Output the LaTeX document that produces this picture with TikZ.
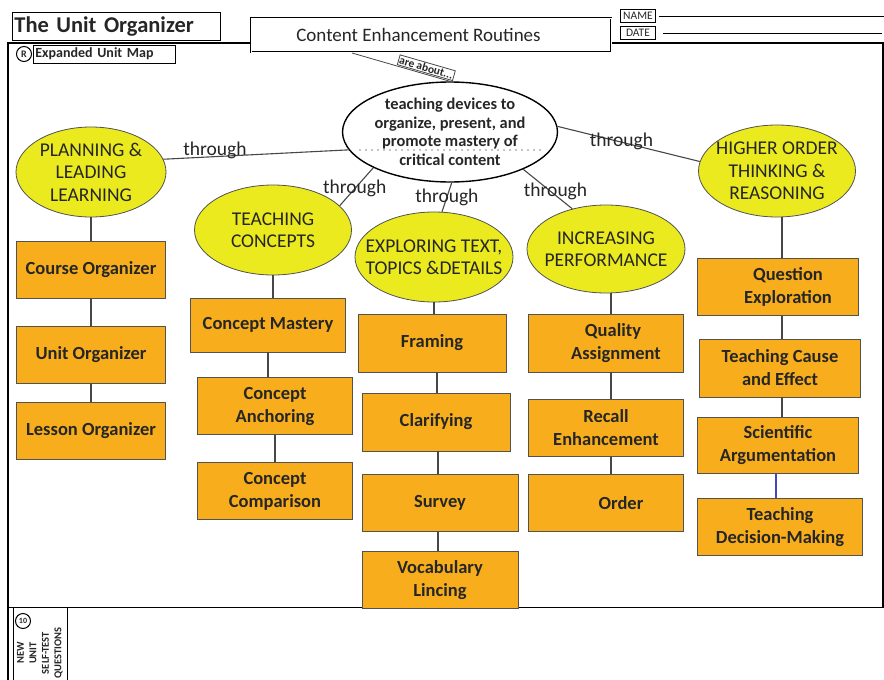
\documentclass[tikz,border=0pt]{standalone}
\usepackage{fontspec}
\setmainfont{Carlito}
\usetikzlibrary{shapes.geometric}
\definecolor{yel}{RGB}{234,234,30}
\definecolor{amber}{RGB}{248,174,28}
\definecolor{ink}{gray}{.15}
\tikzset{
  topic/.style={ellipse, draw=ink!80, fill=yel, inner xsep=-22pt, inner ysep=-4pt, align=center, font=\fontsize{19.5}{22.5}\selectfont},
  routine/.style={rectangle, draw=ink!80, fill=amber, minimum height=57pt, inner sep=1pt, align=center, font=\bfseries\fontsize{18.5}{23}\selectfont},
  thru/.style={font=\fontsize{19.5}{19.5}\selectfont, inner sep=0pt},
  link/.style={draw=ink!85, line width=1.1pt}
}

\begin{document}
\begin{tikzpicture}[x=1pt, y=-1pt, thick, text=ink]
    \useasboundingbox (0,0) rectangle (884,680);
    % \fill[white](0,0)rectangle(884,680);
    \draw[line width=1.5pt](250,43)--(8,43)--(8,680);
    \draw[line width=1.5pt](612,43)--(883,43)--(883,607);
    \draw(8,607)--(884,607);
    \draw(13,607)rectangle(67,680);
    \node[draw, anchor=north west, minimum width=208, minimum height=28, text width=204, align=left, inner sep=1pt, font=\bfseries\fontsize{22.5}{22.5}\selectfont] (title) at (12,12) {The Unit Organizer};
    \node[draw, double, double distance=1pt, fill=white, minimum width=360, minimum height=34, font=\fontsize{19}{19}\selectfont] (cer) at (431,35) {\raisebox{-5pt}{Content Enhancement Routines}\hspace*{25pt}};
    \node[draw, minimum width=35, minimum height=13, inner sep=.5pt, font=\fontsize{11.5}{11.5}\selectfont] (name) at (638,16) {NAME};
    \node[draw, minimum width=35, minimum height=13, inner sep=.5pt, font=\fontsize{11.5}{11.5}\selectfont] (date) at (638,33) {DATE};
    \draw([xshift=3pt]name.east)--(name.east -| 884,0);
    \draw([xshift=7pt]date.east)--(date.east -| 882,0);
    \node[draw, anchor=west, minimum width=142, minimum height=18, text width=138, align=left, inner sep=1pt, font=\bfseries\fontsize{14}{14}\selectfont] (eum) at (33,54) {Expanded Unit Map};
    \node[circle, draw, line width=1pt, inner sep=0pt, minimum size=15, font=\bfseries\fontsize{10}{10}\selectfont] (mapicon) at (24,54) {R};
    \node[circle, draw, line width=1pt, inner sep=0pt, minimum size=15, font=\bfseries\fontsize{8}{8}\selectfont] (testicon) at (23,621) {10};
    \node[rotate=90, align=center, inner sep=0pt, font=\bfseries\fontsize{10.5}{12.5}\selectfont] (selftest) at (40,653) {NEW\\UNIT\\SELF-TEST\\QUESTIONS};

    \node[ellipse, draw, line width=1.4pt, minimum width=215, minimum height=100, inner xsep=-15pt, inner ysep=-4pt, align=center, font=\bfseries\fontsize{16.4}{18.5}\selectfont] (core) at (450,132) {teaching devices to\\organize, present, and\\promote mastery of\\critical content};
    \draw[line width=1.3pt, line cap=round, dash pattern=on 0pt off 6pt](360,150)--(545,150);
    \coordinate (cerfoot) at (352,53);
    \draw[link, line width=.8pt](cerfoot)--node[pos=.74, sloped, above=1pt, draw, fill=white, inner sep=1pt, font=\bfseries\fontsize{11.5}{11.5}\selectfont] (about) {are about...} (core.north);

    \node[topic, minimum width=150, minimum height=90] (plan) at (91,172) {PLANNING \&\\LEADING\\LEARNING};
    \node[topic, minimum width=157, minimum height=90] (teach) at (273,230) {TEACHING\\CONCEPTS};
    \node[topic, minimum width=158, minimum height=90] (expl) at (434,257) {EXPLORING TEXT,\\TOPICS \&DETAILS};
    \node[topic, minimum width=158, minimum height=88] (incr) at (606,249) {INCREASING\\PERFORMANCE};
    \node[topic, minimum width=157, minimum height=92] (high) at (777,171) {HIGHER ORDER\\THINKING \&\\REASONING};

    \draw[link](core.190)--node[thru, pos=.7, xshift=-4pt, yshift=6pt]{through}(plan.10);
    \draw[link](core.205)--node[thru, pos=.55]{through}(teach.20);
    \draw[link](core.272)--node[thru, pos=.5]{through}(expl.80);
    \draw[link](core.333)--node[thru, pos=.7, xshift=-2pt, yshift=6pt]{through}(incr.130);
    \draw[link](core.3)--node[thru, pos=.45, yshift=1pt]{through}(high.173);

    \node[routine, minimum width=149] (course) at (91,270) {Course Organizer};
    \node[routine, minimum width=149] (unit) at (91,355) {Unit Organizer};
    \node[routine, minimum width=149] (lesson) at (91,431) {Lesson Organizer};
    \node[routine, minimum width=155, minimum height=54] (cmast) at (268,325) {Concept Mastery};
    \node[routine, minimum width=155] (canch) at (275,406) {Concept\\Anchoring};
    \node[routine, minimum width=155] (ccomp) at (275,491) {Concept\\Comparison};
    \node[routine, minimum width=148, minimum height=58] (fram) at (432,343) {Framing};
    \node[routine, minimum width=148, minimum height=58] (clar) at (436,422) {Clarifying};
    \node[routine, minimum width=156] (surv) at (440,503) {Survey};
    \node[routine, minimum width=156] (vocab) at (440,580) {Vocabulary\\Lincing};
    \node[routine, minimum width=155, minimum height=58] (qual) at (606,343) {\hspace*{14pt}Quality\\\hspace*{20pt}Assignment};
    \node[routine, minimum width=155] (recall) at (606,428) {Recall\\Enhancement};
    \node[routine, minimum width=155] (order) at (606,503) {\hspace*{30pt}Order};
    \node[routine, minimum width=161] (qexp) at (778,287) {\hspace*{20pt}Question\\\hspace*{20pt}Exploration};
    \node[routine, minimum width=161, minimum height=58] (cause) at (780,368) {Teaching Cause\\and Effect};
    \node[routine, minimum width=161, minimum height=56] (sci) at (778,445) {Scientific\\Argumentation};
    \node[routine, minimum width=165] (tdm) at (780,527) {Teaching\\Decision-Making};

    \draw[link](plan)--(course);
    \draw[link](course)--(unit);
    \draw[link](unit)--(lesson);
    \draw[link](teach.south)--(teach.south |- cmast.north);
    \draw[link](cmast.south)--(cmast.south |- canch.north);
    \draw[link](canch.south)--(canch.south |- ccomp.north);
    \draw[link](expl.south)--(expl.south |- fram.north);
    \draw[link]([xshift=5pt]fram.south)--([xshift=5pt]fram.south |- clar.north);
    \draw[link]([xshift=2pt]clar.south)--([xshift=2pt]clar.south |- surv.north);
    \draw[link]([xshift=-2pt]surv.south)--([xshift=-2pt]surv.south |- vocab.north);
    \draw[link]([xshift=5pt]incr.south)--([xshift=5pt]incr.south |- qual.north);
    \draw[link]([xshift=5pt]qual.south)--([xshift=5pt]qual.south |- recall.north);
    \draw[link]([xshift=5pt]recall.south)--([xshift=5pt]recall.south |- order.north);
    \draw[link]([xshift=5pt]high.south)--([xshift=5pt]high.south |- qexp.north);
    \draw[link]([xshift=4pt]qexp.south)--([xshift=4pt]qexp.south |- cause.north);
    \draw[link]([xshift=2pt]cause.south)--([xshift=2pt]cause.south |- sci.north);
    \draw[link, draw=blue!45!gray]([xshift=-2pt]sci.south)--([xshift=-2pt]sci.south |- tdm.north);
\end{tikzpicture}
\end{document}
